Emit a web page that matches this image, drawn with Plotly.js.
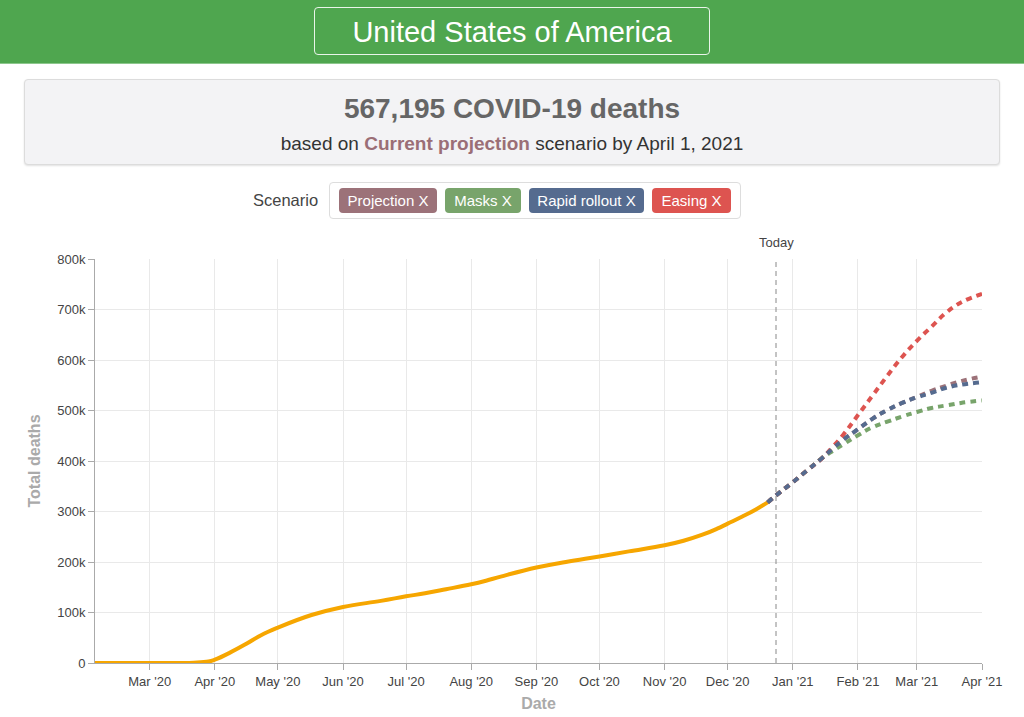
<!DOCTYPE html>
<html>
<head>
<meta charset="utf-8">
<script src="https://cdn.plot.ly/plotly-3.0.1.min.js"></script>
<style>
  html, body { margin:0; padding:0; width:1024px; height:717px; overflow:hidden; background:#fff;
    font-family:"Liberation Sans", Arial, sans-serif; }
  #bar { position:absolute; left:0; top:0; width:1024px; height:63px; background:#4fa64f;
    border-bottom:1px solid #8cc78c; }
  #country { position:absolute; left:314px; top:7px; width:394px; height:46px;
    border:1.5px solid #e9f4e9; border-radius:4px; color:#fff; font-size:29px;
    line-height:48px; text-align:center; }
  #panel { position:absolute; left:24px; top:79px; width:974px; height:84px; background:#f3f3f5;
    border:1px solid #dcdcdc; border-radius:4px; box-shadow:0 1px 2px rgba(0,0,0,0.12); text-align:center; }
  #big { position:absolute; left:0; width:100%; top:13px; font-size:28px; font-weight:bold; color:#666; }
  #sub { position:absolute; left:0; width:100%; top:53px; font-size:19px; color:#333; }
  #sub b { color:#9b6e76; }
  #scenlabel { position:absolute; left:253px; top:191px; font-size:16.5px; color:#444; }
  #legendbox { position:absolute; left:329px; top:182px; width:410px; height:35px; border:1px solid #ddd;
    border-radius:4px; background:#fff; }
  .chip { position:absolute; top:5px; height:25px; line-height:25px; border-radius:4px; color:#fff;
    font-size:15px; text-align:center; }
  #chart { position:absolute; left:0; top:230px; width:1024px; height:487px; }
</style>
</head>
<body>
<div id="bar"><div id="country">United States of America</div></div>
<div id="panel">
  <div id="big">567,195 COVID-19 deaths</div>
  <div id="sub">based on <b>Current projection</b> scenario by April 1, 2021</div>
</div>
<div id="scenlabel">Scenario</div>
<div id="legendbox">
  <div class="chip" style="left:9px;width:98px;background:#9c7279;">Projection X</div>
  <div class="chip" style="left:115px;width:76px;background:#78a46b;">Masks X</div>
  <div class="chip" style="left:199px;width:115px;background:#556b8f;">Rapid rollout X</div>
  <div class="chip" style="left:322px;width:79px;background:#dd5450;">Easing X</div>
</div>
<div id="chart"></div>
<script>
// Observed deaths
const actualDates = ["2020-02-04","2020-03-01","2020-03-15","2020-03-22","2020-03-29","2020-04-01","2020-04-08","2020-04-16","2020-04-23","2020-05-01","2020-05-17","2020-06-01","2020-06-19","2020-07-01","2020-07-10","2020-07-20","2020-08-01","2020-08-08","2020-08-15","2020-09-01","2020-09-15","2020-10-01","2020-10-15","2020-11-01","2020-11-10","2020-11-19","2020-11-26","2020-12-01","2020-12-08","2020-12-14","2020-12-20"];
const actualDeaths = [0,0,100,600,2800,6500,20000,38000,55000,70000,95000,111000,123000,132000,138000,146000,156000,163000,171000,189000,200000,211000,221000,233000,242000,254000,266000,276000,290000,303000,318000];

// Scenario projections
const projDates  = ["2020-12-20","2020-12-24","2021-01-01","2021-01-08","2021-01-15","2021-01-20","2021-01-25","2021-02-01","2021-02-08","2021-02-15","2021-02-22","2021-03-01","2021-03-08","2021-03-15","2021-03-22","2021-04-01"];
const projection = [318000,332000,358000,382000,406000,425000,442000,463000,484000,501000,515000,527000,539000,549000,558000,567195];
const masks      = [318000,332000,358000,382000,406000,420000,433000,451000,467000,478000,488000,497000,505000,510000,515000,520000];
const easing     = [318000,332000,358000,382000,406000,428000,452000,491000,530000,569000,606000,638000,666000,694000,714000,731000];
const rapid      = [318000,332000,358000,382000,406000,425000,442000,463000,484000,501000,515000,526000,535000,545000,551000,556000];

const todayDate = "2020-12-24";
const xStart = "2020-02-04", xEnd = "2021-04-01";

const dashStyle = "6px,5px";
const traces = [
  {x: actualDates, y: actualDeaths, mode:"lines", name:"Observed",
   line:{color:"#f6a600", width:4, shape:"spline", smoothing:1.2}},
  {x: projDates, y: projection, mode:"lines", name:"Projection",
   line:{color:"#9c7279", width:4, dash:dashStyle, shape:"spline", smoothing:1.2}},
  {x: projDates, y: masks, mode:"lines", name:"Masks",
   line:{color:"#78a46b", width:4, dash:dashStyle, shape:"spline", smoothing:1.2}},
  {x: projDates, y: easing, mode:"lines", name:"Easing",
   line:{color:"#dd5450", width:4, dash:dashStyle, shape:"spline", smoothing:1.2}},
  {x: projDates, y: rapid, mode:"lines", name:"Rapid rollout",
   line:{color:"#556b8f", width:4, dash:dashStyle, shape:"spline", smoothing:1.2}}
];

const layout = {
  width:1024, height:487,
  margin:{l:95, r:42, t:29, b:54},
  paper_bgcolor:"rgba(0,0,0,0)", plot_bgcolor:"#fff",
  showlegend:false,
  font:{family:"Liberation Sans, Arial, sans-serif", size:13, color:"#444"},
  xaxis:{
    type:"date", range:[xStart, xEnd],
    tick0:"2020-03-01", dtick:"M1", tickformat:"%b '%y",
    showgrid:true, gridcolor:"#e9e9e9", gridwidth:1,
    showline:true, linecolor:"#aaa", linewidth:1,
    ticks:"outside", ticklen:6, tickcolor:"#aaa",
    tickfont:{size:13, color:"#444"},
    title:{text:"Date", font:{size:16, color:"#aaa", weight:"bold"}, standoff:10},
    zeroline:false
  },
  yaxis:{
    range:[0, 800000], dtick:100000, tickformat:"~s",
    showgrid:true, gridcolor:"#e9e9e9", gridwidth:1,
    showline:true, linecolor:"#aaa", linewidth:1,
    ticks:"outside", ticklen:6, tickcolor:"#aaa",
    tickfont:{size:13, color:"#444"},
    title:{text:"Total deaths", font:{size:16, color:"#aaa", weight:"bold"}, standoff:12},
    zeroline:false
  },
  shapes:[{type:"line", xref:"x", yref:"paper", x0:todayDate, x1:todayDate, y0:0, y1:1,
    line:{color:"#888", width:1, dash:"5px,4px"}}],
  annotations:[{x:todayDate, xref:"x", y:1, yref:"paper", yanchor:"bottom", yshift:7,
    text:"Today", showarrow:false, font:{size:13, color:"#444"}}]
};

Plotly.newPlot("chart", traces, layout, {displayModeBar:false, staticPlot:true});
</script>
</body>
</html>
